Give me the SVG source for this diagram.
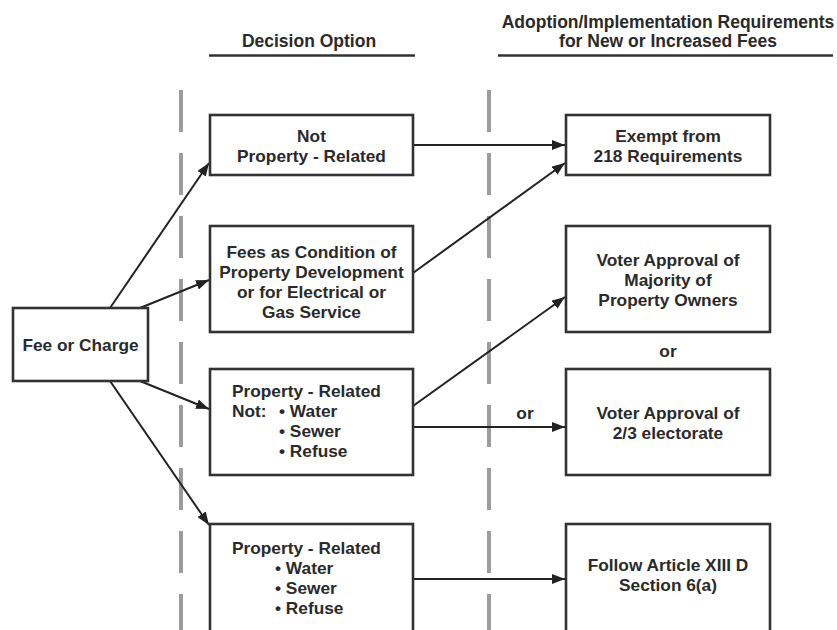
<svg xmlns="http://www.w3.org/2000/svg" width="837" height="630" viewBox="0 0 837 630">
<style>
text{font-family:"Liberation Sans",Arial,sans-serif;font-weight:bold;fill:#2a2a2a}
.hd{font-size:17.5px;text-anchor:middle}
.t{font-size:17.3px;text-anchor:middle}
.tl{font-size:17.3px}
.box{fill:#fff;stroke:#333;stroke-width:2.6}
.rule{stroke:#333;stroke-width:2.6}
.dash{stroke:#9c9c9c;stroke-width:4;stroke-dasharray:42 21;fill:none}
.c{stroke:#222;stroke-width:2;fill:none;marker-end:url(#ah)}
</style>
<defs>
<marker id="ah" markerUnits="userSpaceOnUse" markerWidth="13" markerHeight="10" refX="13" refY="5" orient="auto">
<path d="M0,0 L13,5 L0,10 z" fill="#222"/>
</marker>
</defs>
<rect width="837" height="630" fill="#fff"/>
<g id="headers">
<text class="hd" x="309" y="47">Decision Option</text>
<line class="rule" x1="209" y1="55.5" x2="415" y2="55.5"/>
<text class="hd" x="668" y="28">Adoption/Implementation Requirements</text>
<text class="hd" x="668" y="47">for New or Increased Fees</text>
<line class="rule" x1="498" y1="55.5" x2="833" y2="55.5"/>
</g>
<g id="dividers">
<line class="dash" x1="181" y1="90" x2="181" y2="630"/>
<line class="dash" x1="489" y1="90" x2="489" y2="630"/>
</g>
<g id="connectors">
<line class="c" x1="110" y1="308" x2="209" y2="163"/>
<line class="c" x1="140" y1="308" x2="209" y2="280"/>
<line class="c" x1="140" y1="381" x2="209" y2="409"/>
<line class="c" x1="110" y1="381" x2="209" y2="525"/>
<line class="c" x1="413" y1="145" x2="565" y2="145"/>
<line class="c" x1="413" y1="273" x2="565" y2="163"/>
<line class="c" x1="413" y1="406" x2="565" y2="297"/>
<line class="c" x1="413" y1="427" x2="565" y2="427"/>
<line class="c" x1="413" y1="579" x2="565" y2="579"/>
<text class="t" x="525" y="419">or</text>
</g>
<g id="fee">
<rect class="box" x="13" y="308" width="135" height="73"/>
<text class="t" x="80.5" y="351">Fee or Charge</text>
</g>
<g id="notProperty">
<rect class="box" x="210" y="115" width="203" height="60"/>
<text class="t" x="311.5" y="142">Not</text>
<text class="t" x="311.5" y="162">Property - Related</text>
</g>
<g id="feesCondition">
<rect class="box" x="210" y="226" width="203" height="106"/>
<text class="t" x="311.5" y="258">Fees as Condition of</text>
<text class="t" x="311.5" y="278">Property Development</text>
<text class="t" x="311.5" y="298">or for Electrical or</text>
<text class="t" x="311.5" y="318">Gas Service</text>
</g>
<g id="propertyNot">
<rect class="box" x="210" y="369" width="203" height="106"/>
<text class="tl" x="232" y="397">Property - Related</text>
<text class="tl" x="232" y="417">Not:</text>
<text class="tl" x="279" y="417">• Water</text>
<text class="tl" x="279" y="437">• Sewer</text>
<text class="tl" x="279" y="457">• Refuse</text>
</g>
<g id="propertyRelated">
<rect class="box" x="210" y="524" width="203" height="130"/>
<text class="tl" x="232" y="554">Property - Related</text>
<text class="tl" x="275" y="574">• Water</text>
<text class="tl" x="275" y="594">• Sewer</text>
<text class="tl" x="275" y="614">• Refuse</text>
</g>
<g id="exempt">
<rect class="box" x="566" y="115" width="204" height="60"/>
<text class="t" x="668" y="142">Exempt from</text>
<text class="t" x="668" y="162">218 Requirements</text>
</g>
<g id="majority">
<rect class="box" x="566" y="226" width="204" height="106"/>
<text class="t" x="668" y="266">Voter Approval of</text>
<text class="t" x="668" y="286">Majority of</text>
<text class="t" x="668" y="306">Property Owners</text>
</g>
<g id="orLabel">
<text class="t" x="668" y="357">or</text>
</g>
<g id="twoThirds">
<rect class="box" x="566" y="369" width="204" height="106"/>
<text class="t" x="668" y="419">Voter Approval of</text>
<text class="t" x="668" y="439">2/3 electorate</text>
</g>
<g id="follow">
<rect class="box" x="566" y="524" width="204" height="130"/>
<text class="t" x="668" y="571">Follow Article XIII D</text>
<text class="t" x="668" y="591">Section 6(a)</text>
</g>
</svg>
